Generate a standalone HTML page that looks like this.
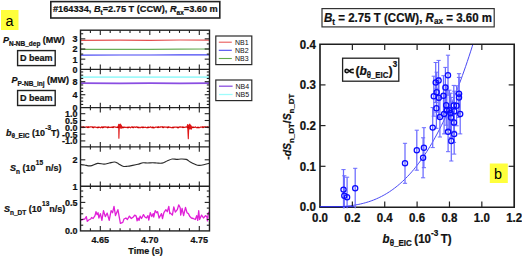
<!DOCTYPE html>
<html><head><meta charset="utf-8"><style>
html,body{margin:0;padding:0;background:#fff;}
body{width:522px;height:257px;overflow:hidden;}
svg{display:block;}
text{font-family:"Liberation Sans", sans-serif;}
text[font-weight="bold"]{stroke:#111;stroke-width:0.22px;paint-order:stroke;}
</style></head><body>
<svg width="522" height="257" viewBox="0 0 522 257">
<rect width="522" height="257" fill="#fff"/>
<rect x="1" y="10" width="17.5" height="20" fill="#ffff3c"/>
<text x="5.4" y="25.8" font-size="14.4" font-family='"Liberation Sans", sans-serif' fill="#000" transform="matrix(1,0,0,1.06,0,-1.548)">a</text>
<rect x="50.8" y="1.6" width="169" height="16.4" fill="none" stroke="#222" stroke-width="1.6"/>
<text x="53" y="12.4" font-size="9.3" font-weight="bold" font-family='"Liberation Sans", sans-serif' fill="#111" textLength="164.8" lengthAdjust="spacingAndGlyphs" transform="matrix(1,0,0,1.06,0,-0.744)">#164334, <tspan font-style="italic">B</tspan><tspan font-size="6.5" dy="2">t</tspan><tspan dy="-2">=2.75 T (CCW), </tspan><tspan font-style="italic">R</tspan><tspan font-size="6.5" dy="2">ax</tspan><tspan dy="-2">=3.60 m</tspan></text>
<polyline points="80.50,40.30 120.00,40.10 150.00,40.30 180.00,40.00 209.50,40.10" fill="none" stroke="#e45050" stroke-width="1.2" stroke-linejoin="round" />
<polyline points="80.50,49.40 120.00,49.30 150.00,49.40 180.00,49.10 209.50,49.00" fill="none" stroke="#6aae58" stroke-width="1.2" stroke-linejoin="round" />
<polyline points="80.50,55.20 120.00,55.00 150.00,55.00 180.00,54.90 209.50,54.80" fill="none" stroke="#4646f4" stroke-width="1.2" stroke-linejoin="round" />
<polyline points="80.50,77.20 150.00,77.20 209.50,77.10" fill="none" stroke="#a0fafa" stroke-width="1.8" stroke-linejoin="round" />
<polyline points="80.50,83.20 120.00,83.30 150.00,83.20 180.00,83.30 209.50,83.10" fill="none" stroke="#8a4ee2" stroke-width="1.8" stroke-linejoin="round" />
<polyline points="80.50,127.14 81.50,126.99 82.50,127.44 83.50,126.92 84.50,127.33 85.50,127.18 86.50,126.90 87.50,127.31 88.50,126.88 89.50,127.24 90.50,126.91 91.50,126.93 92.50,127.23 93.50,127.59 94.50,126.96 95.50,127.05 96.50,127.41 97.50,127.70 98.50,127.37 99.50,127.21 100.50,127.73 101.50,126.89 102.50,127.62 103.50,127.11 104.50,126.98 105.50,126.96 106.50,127.13 107.50,127.58 108.50,127.01 109.50,127.37 110.50,127.43 111.50,127.19 112.50,127.34 113.50,126.91 114.50,126.90 115.50,127.04 116.50,127.46 117.50,127.23 118.50,127.13 119.50,127.38 120.50,127.26 121.50,127.12 122.50,127.56 123.50,127.48 124.50,127.07 125.50,127.37 126.50,127.32 127.50,127.64 128.50,127.51 129.50,127.11 130.50,127.73 131.50,126.96 132.50,127.23 133.50,127.53 134.50,126.99 135.50,127.29 136.50,126.89 137.50,127.45 138.50,127.54 139.50,127.37 140.50,127.64 141.50,127.13 142.50,127.48 143.50,127.38 144.50,127.37 145.50,127.26 146.50,127.61 147.50,127.70 148.50,127.28 149.50,127.45 150.50,126.90 151.50,127.48 152.50,127.43 153.50,127.74 154.50,127.59 155.50,127.11 156.50,127.20 157.50,127.45 158.50,126.87 159.50,127.27 160.50,127.00 161.50,126.96 162.50,126.90 163.50,127.54 164.50,126.97 165.50,127.07 166.50,127.20 167.50,127.63 168.50,126.92 169.50,127.25 170.50,127.34 171.50,127.65 172.50,127.59 173.50,127.63 174.50,127.10 175.50,127.22 176.50,127.17 177.50,127.65 178.50,127.71 179.50,126.99 180.50,127.01 181.50,127.06 182.50,127.06 183.50,127.29 184.50,127.38 185.50,127.09 186.50,126.85 187.50,127.23 188.50,127.18 189.50,127.36 190.50,127.71 191.50,127.47 192.50,127.31 193.50,127.41 194.50,127.46 195.50,126.90 196.50,127.66 197.50,127.55 198.50,127.64 199.50,127.57 200.50,127.20 201.50,127.21 202.50,126.94 203.50,127.42 204.50,126.91 205.50,126.91 206.50,127.04 207.50,127.00 208.50,127.16" fill="none" stroke="#e01818" stroke-width="1.3" stroke-linejoin="round" />
<ellipse cx="120.2" cy="126.4" rx="1.9" ry="2.2" fill="#dd1010"/>
<polyline points="118.20,126.50 118.70,124.30 118.90,138.20 119.30,125.80 120.20,124.00 121.20,128.20 122.00,126.40" fill="none" stroke="#e01818" stroke-width="1.1" stroke-linejoin="round" />
<ellipse cx="189.6" cy="126.9" rx="2.4" ry="2.5" fill="#dd1010"/>
<polyline points="187.00,127.20 187.60,124.60 188.30,138.80 188.80,125.40 189.80,124.20 191.20,129.20 192.20,126.80" fill="none" stroke="#e01818" stroke-width="1.1" stroke-linejoin="round" />
<circle cx="83.0" cy="127.3" r="0.9" fill="#c00000"/>
<circle cx="88.0" cy="127.3" r="0.9" fill="#c00000"/>
<circle cx="93.0" cy="127.3" r="0.9" fill="#c00000"/>
<circle cx="98.0" cy="127.3" r="0.9" fill="#c00000"/>
<circle cx="103.0" cy="127.3" r="0.9" fill="#c00000"/>
<circle cx="108.0" cy="127.3" r="0.9" fill="#c00000"/>
<circle cx="113.0" cy="127.3" r="0.9" fill="#c00000"/>
<circle cx="118.0" cy="127.3" r="0.9" fill="#c00000"/>
<circle cx="123.0" cy="127.3" r="0.9" fill="#c00000"/>
<circle cx="128.0" cy="127.3" r="0.9" fill="#c00000"/>
<circle cx="133.0" cy="127.3" r="0.9" fill="#c00000"/>
<circle cx="138.0" cy="127.3" r="0.9" fill="#c00000"/>
<circle cx="143.0" cy="127.3" r="0.9" fill="#c00000"/>
<circle cx="148.0" cy="127.3" r="0.9" fill="#c00000"/>
<circle cx="153.0" cy="127.3" r="0.9" fill="#c00000"/>
<circle cx="158.0" cy="127.3" r="0.9" fill="#c00000"/>
<circle cx="163.0" cy="127.3" r="0.9" fill="#c00000"/>
<circle cx="168.0" cy="127.3" r="0.9" fill="#c00000"/>
<circle cx="173.0" cy="127.3" r="0.9" fill="#c00000"/>
<circle cx="178.0" cy="127.3" r="0.9" fill="#c00000"/>
<circle cx="183.0" cy="127.3" r="0.9" fill="#c00000"/>
<circle cx="188.0" cy="127.3" r="0.9" fill="#c00000"/>
<circle cx="193.0" cy="127.3" r="0.9" fill="#c00000"/>
<circle cx="198.0" cy="127.3" r="0.9" fill="#c00000"/>
<circle cx="203.0" cy="127.3" r="0.9" fill="#c00000"/>
<circle cx="208.0" cy="127.3" r="0.9" fill="#c00000"/>
<path d="M80.30,164.60 C81.00,164.67 82.82,164.78 84.50,165.00 C86.18,165.22 88.23,166.17 90.40,165.90 C92.57,165.63 95.22,163.70 97.50,163.40 C99.78,163.10 102.13,164.17 104.10,164.10 C106.07,164.03 107.57,163.35 109.30,163.00 C111.03,162.65 112.98,161.88 114.50,162.00 C116.02,162.12 116.98,162.98 118.40,163.70 C119.82,164.42 121.48,165.87 123.00,166.30 C124.52,166.73 125.88,166.45 127.50,166.30 C129.12,166.15 130.97,165.73 132.70,165.40 C134.43,165.07 136.17,164.73 137.90,164.30 C139.63,163.87 141.52,163.02 143.10,162.80 C144.68,162.58 145.80,163.02 147.40,163.00 C149.00,162.98 151.13,162.70 152.70,162.70 C154.27,162.70 155.23,162.93 156.80,163.00 C158.37,163.07 160.32,163.48 162.10,163.10 C163.88,162.72 165.82,161.38 167.50,160.70 C169.18,160.02 170.63,159.22 172.20,159.00 C173.77,158.78 175.45,159.40 176.90,159.40 C178.35,159.40 179.33,159.00 180.90,159.00 C182.47,159.00 184.73,158.88 186.30,159.40 C187.87,159.92 188.85,161.28 190.30,162.10 C191.75,162.92 193.55,163.75 195.00,164.30 C196.45,164.85 197.55,165.32 199.00,165.40 C200.45,165.48 201.97,165.17 203.70,164.80 C205.43,164.43 208.45,163.47 209.40,163.20" fill="none" stroke="#2a2a2a" stroke-width="1.15" />
<polyline points="80.40,220.40 82.40,219.50 84.80,219.00 86.30,216.60 87.30,221.40 88.70,220.00 90.70,219.00 91.60,217.50 93.10,218.50 95.00,215.60 96.00,211.70 97.00,214.60 98.00,212.70 98.90,218.00 100.40,213.60 101.90,220.40 103.50,210.70 105.30,216.60 107.20,213.10 109.20,220.40 111.10,210.70 112.60,212.70 114.00,206.30 115.50,215.60 117.90,209.70 120.40,223.40 122.80,222.40 124.00,219.00 125.90,218.00 127.40,219.50 129.40,216.10 131.30,218.50 133.30,217.00 134.70,215.10 136.20,216.10 137.10,220.90 138.10,218.00 139.10,220.40 140.10,216.10 141.50,218.50 143.50,214.60 144.90,217.00 146.40,218.00 147.90,215.60 148.80,220.00 150.30,212.70 151.80,216.60 153.20,213.60 153.70,217.00 155.20,210.70 156.60,212.70 157.60,211.70 159.10,218.00 161.50,213.60 162.50,218.50 163.90,212.70 165.90,209.70 167.30,211.70 168.80,206.30 169.80,213.60 170.00,212.70 172.40,215.10 173.80,206.80 175.30,212.20 177.30,209.70 178.70,204.90 180.20,207.80 180.70,215.10 182.10,208.30 183.60,215.60 185.50,207.30 187.00,212.70 188.40,213.60 189.90,216.60 191.40,218.00 193.30,218.50 195.30,219.50 196.70,215.60 197.70,220.40 198.70,210.70 199.60,219.50 201.60,215.10 203.50,218.00 205.50,215.60 207.00,217.00 207.40,220.90 208.40,212.70 209.40,212.20" fill="none" stroke="#e020d8" stroke-width="1.3" stroke-linejoin="round" />
<rect x="80.5" y="30.2" width="129.0" height="200.70000000000002" fill="none" stroke="#222" stroke-width="1.4"/>
<line x1="80.50" y1="69.40" x2="209.50" y2="69.40" stroke="#222" stroke-width="1.4" />
<line x1="80.50" y1="107.60" x2="209.50" y2="107.60" stroke="#222" stroke-width="1.4" />
<line x1="80.50" y1="146.90" x2="209.50" y2="146.90" stroke="#222" stroke-width="1.4" />
<line x1="80.50" y1="186.20" x2="209.50" y2="186.20" stroke="#222" stroke-width="1.4" />
<line x1="90.40" y1="30.20" x2="90.40" y2="32.90" stroke="#222" stroke-width="1.1" />
<line x1="90.40" y1="69.40" x2="90.40" y2="66.70" stroke="#222" stroke-width="1.1" />
<line x1="100.30" y1="30.20" x2="100.30" y2="35.00" stroke="#222" stroke-width="1.1" />
<line x1="100.30" y1="69.40" x2="100.30" y2="64.60" stroke="#222" stroke-width="1.1" />
<line x1="110.20" y1="30.20" x2="110.20" y2="32.90" stroke="#222" stroke-width="1.1" />
<line x1="110.20" y1="69.40" x2="110.20" y2="66.70" stroke="#222" stroke-width="1.1" />
<line x1="120.10" y1="30.20" x2="120.10" y2="32.90" stroke="#222" stroke-width="1.1" />
<line x1="120.10" y1="69.40" x2="120.10" y2="66.70" stroke="#222" stroke-width="1.1" />
<line x1="130.00" y1="30.20" x2="130.00" y2="32.90" stroke="#222" stroke-width="1.1" />
<line x1="130.00" y1="69.40" x2="130.00" y2="66.70" stroke="#222" stroke-width="1.1" />
<line x1="139.90" y1="30.20" x2="139.90" y2="32.90" stroke="#222" stroke-width="1.1" />
<line x1="139.90" y1="69.40" x2="139.90" y2="66.70" stroke="#222" stroke-width="1.1" />
<line x1="149.80" y1="30.20" x2="149.80" y2="35.00" stroke="#222" stroke-width="1.1" />
<line x1="149.80" y1="69.40" x2="149.80" y2="64.60" stroke="#222" stroke-width="1.1" />
<line x1="159.70" y1="30.20" x2="159.70" y2="32.90" stroke="#222" stroke-width="1.1" />
<line x1="159.70" y1="69.40" x2="159.70" y2="66.70" stroke="#222" stroke-width="1.1" />
<line x1="169.60" y1="30.20" x2="169.60" y2="32.90" stroke="#222" stroke-width="1.1" />
<line x1="169.60" y1="69.40" x2="169.60" y2="66.70" stroke="#222" stroke-width="1.1" />
<line x1="179.50" y1="30.20" x2="179.50" y2="32.90" stroke="#222" stroke-width="1.1" />
<line x1="179.50" y1="69.40" x2="179.50" y2="66.70" stroke="#222" stroke-width="1.1" />
<line x1="189.40" y1="30.20" x2="189.40" y2="32.90" stroke="#222" stroke-width="1.1" />
<line x1="189.40" y1="69.40" x2="189.40" y2="66.70" stroke="#222" stroke-width="1.1" />
<line x1="199.30" y1="30.20" x2="199.30" y2="35.00" stroke="#222" stroke-width="1.1" />
<line x1="199.30" y1="69.40" x2="199.30" y2="64.60" stroke="#222" stroke-width="1.1" />
<line x1="80.50" y1="59.15" x2="85.30" y2="59.15" stroke="#222" stroke-width="1.1" />
<line x1="209.50" y1="59.15" x2="204.70" y2="59.15" stroke="#222" stroke-width="1.1" />
<line x1="80.50" y1="49.00" x2="85.30" y2="49.00" stroke="#222" stroke-width="1.1" />
<line x1="209.50" y1="49.00" x2="204.70" y2="49.00" stroke="#222" stroke-width="1.1" />
<line x1="80.50" y1="38.85" x2="85.30" y2="38.85" stroke="#222" stroke-width="1.1" />
<line x1="209.50" y1="38.85" x2="204.70" y2="38.85" stroke="#222" stroke-width="1.1" />
<line x1="80.50" y1="64.22" x2="83.20" y2="64.22" stroke="#222" stroke-width="1.1" />
<line x1="209.50" y1="64.22" x2="206.80" y2="64.22" stroke="#222" stroke-width="1.1" />
<line x1="80.50" y1="54.07" x2="83.20" y2="54.07" stroke="#222" stroke-width="1.1" />
<line x1="209.50" y1="54.07" x2="206.80" y2="54.07" stroke="#222" stroke-width="1.1" />
<line x1="80.50" y1="43.92" x2="83.20" y2="43.92" stroke="#222" stroke-width="1.1" />
<line x1="209.50" y1="43.92" x2="206.80" y2="43.92" stroke="#222" stroke-width="1.1" />
<line x1="80.50" y1="33.77" x2="83.20" y2="33.77" stroke="#222" stroke-width="1.1" />
<line x1="209.50" y1="33.77" x2="206.80" y2="33.77" stroke="#222" stroke-width="1.1" />
<line x1="90.40" y1="69.40" x2="90.40" y2="72.10" stroke="#222" stroke-width="1.1" />
<line x1="90.40" y1="107.60" x2="90.40" y2="104.90" stroke="#222" stroke-width="1.1" />
<line x1="100.30" y1="69.40" x2="100.30" y2="74.20" stroke="#222" stroke-width="1.1" />
<line x1="100.30" y1="107.60" x2="100.30" y2="102.80" stroke="#222" stroke-width="1.1" />
<line x1="110.20" y1="69.40" x2="110.20" y2="72.10" stroke="#222" stroke-width="1.1" />
<line x1="110.20" y1="107.60" x2="110.20" y2="104.90" stroke="#222" stroke-width="1.1" />
<line x1="120.10" y1="69.40" x2="120.10" y2="72.10" stroke="#222" stroke-width="1.1" />
<line x1="120.10" y1="107.60" x2="120.10" y2="104.90" stroke="#222" stroke-width="1.1" />
<line x1="130.00" y1="69.40" x2="130.00" y2="72.10" stroke="#222" stroke-width="1.1" />
<line x1="130.00" y1="107.60" x2="130.00" y2="104.90" stroke="#222" stroke-width="1.1" />
<line x1="139.90" y1="69.40" x2="139.90" y2="72.10" stroke="#222" stroke-width="1.1" />
<line x1="139.90" y1="107.60" x2="139.90" y2="104.90" stroke="#222" stroke-width="1.1" />
<line x1="149.80" y1="69.40" x2="149.80" y2="74.20" stroke="#222" stroke-width="1.1" />
<line x1="149.80" y1="107.60" x2="149.80" y2="102.80" stroke="#222" stroke-width="1.1" />
<line x1="159.70" y1="69.40" x2="159.70" y2="72.10" stroke="#222" stroke-width="1.1" />
<line x1="159.70" y1="107.60" x2="159.70" y2="104.90" stroke="#222" stroke-width="1.1" />
<line x1="169.60" y1="69.40" x2="169.60" y2="72.10" stroke="#222" stroke-width="1.1" />
<line x1="169.60" y1="107.60" x2="169.60" y2="104.90" stroke="#222" stroke-width="1.1" />
<line x1="179.50" y1="69.40" x2="179.50" y2="72.10" stroke="#222" stroke-width="1.1" />
<line x1="179.50" y1="107.60" x2="179.50" y2="104.90" stroke="#222" stroke-width="1.1" />
<line x1="189.40" y1="69.40" x2="189.40" y2="72.10" stroke="#222" stroke-width="1.1" />
<line x1="189.40" y1="107.60" x2="189.40" y2="104.90" stroke="#222" stroke-width="1.1" />
<line x1="199.30" y1="69.40" x2="199.30" y2="74.20" stroke="#222" stroke-width="1.1" />
<line x1="199.30" y1="107.60" x2="199.30" y2="102.80" stroke="#222" stroke-width="1.1" />
<line x1="80.50" y1="94.70" x2="85.30" y2="94.70" stroke="#222" stroke-width="1.1" />
<line x1="209.50" y1="94.70" x2="204.70" y2="94.70" stroke="#222" stroke-width="1.1" />
<line x1="80.50" y1="81.70" x2="85.30" y2="81.70" stroke="#222" stroke-width="1.1" />
<line x1="209.50" y1="81.70" x2="204.70" y2="81.70" stroke="#222" stroke-width="1.1" />
<line x1="80.50" y1="104.45" x2="83.20" y2="104.45" stroke="#222" stroke-width="1.1" />
<line x1="209.50" y1="104.45" x2="206.80" y2="104.45" stroke="#222" stroke-width="1.1" />
<line x1="80.50" y1="101.20" x2="83.20" y2="101.20" stroke="#222" stroke-width="1.1" />
<line x1="209.50" y1="101.20" x2="206.80" y2="101.20" stroke="#222" stroke-width="1.1" />
<line x1="80.50" y1="97.95" x2="83.20" y2="97.95" stroke="#222" stroke-width="1.1" />
<line x1="209.50" y1="97.95" x2="206.80" y2="97.95" stroke="#222" stroke-width="1.1" />
<line x1="80.50" y1="91.45" x2="83.20" y2="91.45" stroke="#222" stroke-width="1.1" />
<line x1="209.50" y1="91.45" x2="206.80" y2="91.45" stroke="#222" stroke-width="1.1" />
<line x1="80.50" y1="88.20" x2="83.20" y2="88.20" stroke="#222" stroke-width="1.1" />
<line x1="209.50" y1="88.20" x2="206.80" y2="88.20" stroke="#222" stroke-width="1.1" />
<line x1="80.50" y1="84.95" x2="83.20" y2="84.95" stroke="#222" stroke-width="1.1" />
<line x1="209.50" y1="84.95" x2="206.80" y2="84.95" stroke="#222" stroke-width="1.1" />
<line x1="80.50" y1="78.45" x2="83.20" y2="78.45" stroke="#222" stroke-width="1.1" />
<line x1="209.50" y1="78.45" x2="206.80" y2="78.45" stroke="#222" stroke-width="1.1" />
<line x1="80.50" y1="75.20" x2="83.20" y2="75.20" stroke="#222" stroke-width="1.1" />
<line x1="209.50" y1="75.20" x2="206.80" y2="75.20" stroke="#222" stroke-width="1.1" />
<line x1="80.50" y1="71.95" x2="83.20" y2="71.95" stroke="#222" stroke-width="1.1" />
<line x1="209.50" y1="71.95" x2="206.80" y2="71.95" stroke="#222" stroke-width="1.1" />
<line x1="90.40" y1="107.60" x2="90.40" y2="110.30" stroke="#222" stroke-width="1.1" />
<line x1="90.40" y1="146.90" x2="90.40" y2="144.20" stroke="#222" stroke-width="1.1" />
<line x1="100.30" y1="107.60" x2="100.30" y2="112.40" stroke="#222" stroke-width="1.1" />
<line x1="100.30" y1="146.90" x2="100.30" y2="142.10" stroke="#222" stroke-width="1.1" />
<line x1="110.20" y1="107.60" x2="110.20" y2="110.30" stroke="#222" stroke-width="1.1" />
<line x1="110.20" y1="146.90" x2="110.20" y2="144.20" stroke="#222" stroke-width="1.1" />
<line x1="120.10" y1="107.60" x2="120.10" y2="110.30" stroke="#222" stroke-width="1.1" />
<line x1="120.10" y1="146.90" x2="120.10" y2="144.20" stroke="#222" stroke-width="1.1" />
<line x1="130.00" y1="107.60" x2="130.00" y2="110.30" stroke="#222" stroke-width="1.1" />
<line x1="130.00" y1="146.90" x2="130.00" y2="144.20" stroke="#222" stroke-width="1.1" />
<line x1="139.90" y1="107.60" x2="139.90" y2="110.30" stroke="#222" stroke-width="1.1" />
<line x1="139.90" y1="146.90" x2="139.90" y2="144.20" stroke="#222" stroke-width="1.1" />
<line x1="149.80" y1="107.60" x2="149.80" y2="112.40" stroke="#222" stroke-width="1.1" />
<line x1="149.80" y1="146.90" x2="149.80" y2="142.10" stroke="#222" stroke-width="1.1" />
<line x1="159.70" y1="107.60" x2="159.70" y2="110.30" stroke="#222" stroke-width="1.1" />
<line x1="159.70" y1="146.90" x2="159.70" y2="144.20" stroke="#222" stroke-width="1.1" />
<line x1="169.60" y1="107.60" x2="169.60" y2="110.30" stroke="#222" stroke-width="1.1" />
<line x1="169.60" y1="146.90" x2="169.60" y2="144.20" stroke="#222" stroke-width="1.1" />
<line x1="179.50" y1="107.60" x2="179.50" y2="110.30" stroke="#222" stroke-width="1.1" />
<line x1="179.50" y1="146.90" x2="179.50" y2="144.20" stroke="#222" stroke-width="1.1" />
<line x1="189.40" y1="107.60" x2="189.40" y2="110.30" stroke="#222" stroke-width="1.1" />
<line x1="189.40" y1="146.90" x2="189.40" y2="144.20" stroke="#222" stroke-width="1.1" />
<line x1="199.30" y1="107.60" x2="199.30" y2="112.40" stroke="#222" stroke-width="1.1" />
<line x1="199.30" y1="146.90" x2="199.30" y2="142.10" stroke="#222" stroke-width="1.1" />
<line x1="80.50" y1="140.90" x2="85.30" y2="140.90" stroke="#222" stroke-width="1.1" />
<line x1="209.50" y1="140.90" x2="204.70" y2="140.90" stroke="#222" stroke-width="1.1" />
<line x1="80.50" y1="134.10" x2="85.30" y2="134.10" stroke="#222" stroke-width="1.1" />
<line x1="209.50" y1="134.10" x2="204.70" y2="134.10" stroke="#222" stroke-width="1.1" />
<line x1="80.50" y1="127.30" x2="85.30" y2="127.30" stroke="#222" stroke-width="1.1" />
<line x1="209.50" y1="127.30" x2="204.70" y2="127.30" stroke="#222" stroke-width="1.1" />
<line x1="80.50" y1="120.50" x2="85.30" y2="120.50" stroke="#222" stroke-width="1.1" />
<line x1="209.50" y1="120.50" x2="204.70" y2="120.50" stroke="#222" stroke-width="1.1" />
<line x1="80.50" y1="113.70" x2="85.30" y2="113.70" stroke="#222" stroke-width="1.1" />
<line x1="209.50" y1="113.70" x2="204.70" y2="113.70" stroke="#222" stroke-width="1.1" />
<line x1="90.40" y1="146.90" x2="90.40" y2="149.60" stroke="#222" stroke-width="1.1" />
<line x1="90.40" y1="186.20" x2="90.40" y2="183.50" stroke="#222" stroke-width="1.1" />
<line x1="100.30" y1="146.90" x2="100.30" y2="151.70" stroke="#222" stroke-width="1.1" />
<line x1="100.30" y1="186.20" x2="100.30" y2="181.40" stroke="#222" stroke-width="1.1" />
<line x1="110.20" y1="146.90" x2="110.20" y2="149.60" stroke="#222" stroke-width="1.1" />
<line x1="110.20" y1="186.20" x2="110.20" y2="183.50" stroke="#222" stroke-width="1.1" />
<line x1="120.10" y1="146.90" x2="120.10" y2="149.60" stroke="#222" stroke-width="1.1" />
<line x1="120.10" y1="186.20" x2="120.10" y2="183.50" stroke="#222" stroke-width="1.1" />
<line x1="130.00" y1="146.90" x2="130.00" y2="149.60" stroke="#222" stroke-width="1.1" />
<line x1="130.00" y1="186.20" x2="130.00" y2="183.50" stroke="#222" stroke-width="1.1" />
<line x1="139.90" y1="146.90" x2="139.90" y2="149.60" stroke="#222" stroke-width="1.1" />
<line x1="139.90" y1="186.20" x2="139.90" y2="183.50" stroke="#222" stroke-width="1.1" />
<line x1="149.80" y1="146.90" x2="149.80" y2="151.70" stroke="#222" stroke-width="1.1" />
<line x1="149.80" y1="186.20" x2="149.80" y2="181.40" stroke="#222" stroke-width="1.1" />
<line x1="159.70" y1="146.90" x2="159.70" y2="149.60" stroke="#222" stroke-width="1.1" />
<line x1="159.70" y1="186.20" x2="159.70" y2="183.50" stroke="#222" stroke-width="1.1" />
<line x1="169.60" y1="146.90" x2="169.60" y2="149.60" stroke="#222" stroke-width="1.1" />
<line x1="169.60" y1="186.20" x2="169.60" y2="183.50" stroke="#222" stroke-width="1.1" />
<line x1="179.50" y1="146.90" x2="179.50" y2="149.60" stroke="#222" stroke-width="1.1" />
<line x1="179.50" y1="186.20" x2="179.50" y2="183.50" stroke="#222" stroke-width="1.1" />
<line x1="189.40" y1="146.90" x2="189.40" y2="149.60" stroke="#222" stroke-width="1.1" />
<line x1="189.40" y1="186.20" x2="189.40" y2="183.50" stroke="#222" stroke-width="1.1" />
<line x1="199.30" y1="146.90" x2="199.30" y2="151.70" stroke="#222" stroke-width="1.1" />
<line x1="199.30" y1="186.20" x2="199.30" y2="181.40" stroke="#222" stroke-width="1.1" />
<line x1="80.50" y1="159.80" x2="85.30" y2="159.80" stroke="#222" stroke-width="1.1" />
<line x1="209.50" y1="159.80" x2="204.70" y2="159.80" stroke="#222" stroke-width="1.1" />
<line x1="80.50" y1="173.05" x2="83.20" y2="173.05" stroke="#222" stroke-width="1.1" />
<line x1="209.50" y1="173.05" x2="206.80" y2="173.05" stroke="#222" stroke-width="1.1" />
<line x1="90.40" y1="186.20" x2="90.40" y2="188.90" stroke="#222" stroke-width="1.1" />
<line x1="90.40" y1="230.90" x2="90.40" y2="228.20" stroke="#222" stroke-width="1.1" />
<line x1="100.30" y1="186.20" x2="100.30" y2="191.00" stroke="#222" stroke-width="1.1" />
<line x1="100.30" y1="230.90" x2="100.30" y2="226.10" stroke="#222" stroke-width="1.1" />
<line x1="110.20" y1="186.20" x2="110.20" y2="188.90" stroke="#222" stroke-width="1.1" />
<line x1="110.20" y1="230.90" x2="110.20" y2="228.20" stroke="#222" stroke-width="1.1" />
<line x1="120.10" y1="186.20" x2="120.10" y2="188.90" stroke="#222" stroke-width="1.1" />
<line x1="120.10" y1="230.90" x2="120.10" y2="228.20" stroke="#222" stroke-width="1.1" />
<line x1="130.00" y1="186.20" x2="130.00" y2="188.90" stroke="#222" stroke-width="1.1" />
<line x1="130.00" y1="230.90" x2="130.00" y2="228.20" stroke="#222" stroke-width="1.1" />
<line x1="139.90" y1="186.20" x2="139.90" y2="188.90" stroke="#222" stroke-width="1.1" />
<line x1="139.90" y1="230.90" x2="139.90" y2="228.20" stroke="#222" stroke-width="1.1" />
<line x1="149.80" y1="186.20" x2="149.80" y2="191.00" stroke="#222" stroke-width="1.1" />
<line x1="149.80" y1="230.90" x2="149.80" y2="226.10" stroke="#222" stroke-width="1.1" />
<line x1="159.70" y1="186.20" x2="159.70" y2="188.90" stroke="#222" stroke-width="1.1" />
<line x1="159.70" y1="230.90" x2="159.70" y2="228.20" stroke="#222" stroke-width="1.1" />
<line x1="169.60" y1="186.20" x2="169.60" y2="188.90" stroke="#222" stroke-width="1.1" />
<line x1="169.60" y1="230.90" x2="169.60" y2="228.20" stroke="#222" stroke-width="1.1" />
<line x1="179.50" y1="186.20" x2="179.50" y2="188.90" stroke="#222" stroke-width="1.1" />
<line x1="179.50" y1="230.90" x2="179.50" y2="228.20" stroke="#222" stroke-width="1.1" />
<line x1="189.40" y1="186.20" x2="189.40" y2="188.90" stroke="#222" stroke-width="1.1" />
<line x1="189.40" y1="230.90" x2="189.40" y2="228.20" stroke="#222" stroke-width="1.1" />
<line x1="199.30" y1="186.20" x2="199.30" y2="191.00" stroke="#222" stroke-width="1.1" />
<line x1="199.30" y1="230.90" x2="199.30" y2="226.10" stroke="#222" stroke-width="1.1" />
<line x1="80.50" y1="202.40" x2="85.30" y2="202.40" stroke="#222" stroke-width="1.1" />
<line x1="209.50" y1="202.40" x2="204.70" y2="202.40" stroke="#222" stroke-width="1.1" />
<line x1="80.50" y1="225.20" x2="83.20" y2="225.20" stroke="#222" stroke-width="1.1" />
<line x1="209.50" y1="225.20" x2="206.80" y2="225.20" stroke="#222" stroke-width="1.1" />
<line x1="80.50" y1="219.50" x2="83.20" y2="219.50" stroke="#222" stroke-width="1.1" />
<line x1="209.50" y1="219.50" x2="206.80" y2="219.50" stroke="#222" stroke-width="1.1" />
<line x1="80.50" y1="213.80" x2="83.20" y2="213.80" stroke="#222" stroke-width="1.1" />
<line x1="209.50" y1="213.80" x2="206.80" y2="213.80" stroke="#222" stroke-width="1.1" />
<line x1="80.50" y1="208.10" x2="83.20" y2="208.10" stroke="#222" stroke-width="1.1" />
<line x1="209.50" y1="208.10" x2="206.80" y2="208.10" stroke="#222" stroke-width="1.1" />
<line x1="80.50" y1="196.70" x2="83.20" y2="196.70" stroke="#222" stroke-width="1.1" />
<line x1="209.50" y1="196.70" x2="206.80" y2="196.70" stroke="#222" stroke-width="1.1" />
<line x1="80.50" y1="191.00" x2="83.20" y2="191.00" stroke="#222" stroke-width="1.1" />
<line x1="209.50" y1="191.00" x2="206.80" y2="191.00" stroke="#222" stroke-width="1.1" />
<text x="77.6" y="42.349999999999994" font-size="9" font-weight="bold" font-family='"Liberation Sans", sans-serif' fill="#111" text-anchor="end"  transform="matrix(1,0,0,1.06,0,-2.541)">3</text>
<text x="77.6" y="52.5" font-size="9" font-weight="bold" font-family='"Liberation Sans", sans-serif' fill="#111" text-anchor="end"  transform="matrix(1,0,0,1.06,0,-3.150)">2</text>
<text x="77.6" y="62.65" font-size="9" font-weight="bold" font-family='"Liberation Sans", sans-serif' fill="#111" text-anchor="end"  transform="matrix(1,0,0,1.06,0,-3.759)">1</text>
<text x="77.6" y="72.8" font-size="9" font-weight="bold" font-family='"Liberation Sans", sans-serif' fill="#111" text-anchor="end"  transform="matrix(1,0,0,1.06,0,-4.368)">0</text>
<text x="77.6" y="85.2" font-size="9" font-weight="bold" font-family='"Liberation Sans", sans-serif' fill="#111" text-anchor="end"  transform="matrix(1,0,0,1.06,0,-5.112)">8</text>
<text x="77.6" y="98.2" font-size="9" font-weight="bold" font-family='"Liberation Sans", sans-serif' fill="#111" text-anchor="end"  transform="matrix(1,0,0,1.06,0,-5.892)">4</text>
<text x="77.6" y="111.2" font-size="9" font-weight="bold" font-family='"Liberation Sans", sans-serif' fill="#111" text-anchor="end"  transform="matrix(1,0,0,1.06,0,-6.672)">0</text>
<text x="77.6" y="117.2" font-size="9" font-weight="bold" font-family='"Liberation Sans", sans-serif' fill="#111" text-anchor="end"  transform="matrix(1,0,0,1.06,0,-7.032)">1.0</text>
<text x="77.6" y="124.0" font-size="9" font-weight="bold" font-family='"Liberation Sans", sans-serif' fill="#111" text-anchor="end"  transform="matrix(1,0,0,1.06,0,-7.440)">0.5</text>
<text x="77.6" y="130.8" font-size="9" font-weight="bold" font-family='"Liberation Sans", sans-serif' fill="#111" text-anchor="end"  transform="matrix(1,0,0,1.06,0,-7.848)">0.0</text>
<text x="77.6" y="137.6" font-size="9" font-weight="bold" font-family='"Liberation Sans", sans-serif' fill="#111" text-anchor="end"  transform="matrix(1,0,0,1.06,0,-8.256)">-0.5</text>
<text x="77.6" y="144.4" font-size="9" font-weight="bold" font-family='"Liberation Sans", sans-serif' fill="#111" text-anchor="end"  transform="matrix(1,0,0,1.06,0,-8.664)">-1.0</text>
<text x="77.6" y="163.3" font-size="9" font-weight="bold" font-family='"Liberation Sans", sans-serif' fill="#111" text-anchor="end"  transform="matrix(1,0,0,1.06,0,-9.798)">2</text>
<text x="77.6" y="189.8" font-size="9" font-weight="bold" font-family='"Liberation Sans", sans-serif' fill="#111" text-anchor="end"  transform="matrix(1,0,0,1.06,0,-11.388)">1</text>
<text x="77.6" y="205.9" font-size="9" font-weight="bold" font-family='"Liberation Sans", sans-serif' fill="#111" text-anchor="end"  transform="matrix(1,0,0,1.06,0,-12.354)">0.5</text>
<text x="77.6" y="234.4" font-size="9" font-weight="bold" font-family='"Liberation Sans", sans-serif' fill="#111" text-anchor="end"  transform="matrix(1,0,0,1.06,0,-14.064)">0.0</text>
<text x="100.3" y="243" font-size="9" font-weight="bold" font-family='"Liberation Sans", sans-serif' fill="#111" text-anchor="middle"  transform="matrix(1,0,0,1.06,0,-14.580)">4.65</text>
<text x="149.7999999999998" y="243" font-size="9" font-weight="bold" font-family='"Liberation Sans", sans-serif' fill="#111" text-anchor="middle"  transform="matrix(1,0,0,1.06,0,-14.580)">4.70</text>
<text x="199.29999999999964" y="243" font-size="9" font-weight="bold" font-family='"Liberation Sans", sans-serif' fill="#111" text-anchor="middle"  transform="matrix(1,0,0,1.06,0,-14.580)">4.75</text>
<text x="145.5" y="254.2" font-size="9" font-weight="bold" font-family='"Liberation Sans", sans-serif' fill="#111" text-anchor="middle"  transform="matrix(1,0,0,1.06,0,-15.252)">Time (s)</text>
<text x="3" y="43.2" font-size="9" font-weight="bold" font-family='"Liberation Sans", sans-serif' fill="#111" transform="matrix(1,0,0,1.06,0,-2.592)"><tspan font-style="italic">P</tspan><tspan font-size="6.5" dy="2.2">N-NB_dep</tspan><tspan dy="-2.2"> (MW)</tspan></text>
<text x="11.5" y="83.2" font-size="9" font-weight="bold" font-family='"Liberation Sans", sans-serif' fill="#111" transform="matrix(1,0,0,1.06,0,-4.992)"><tspan font-style="italic">P</tspan><tspan font-size="6.5" dy="2.2">P-NB_inj</tspan><tspan dy="-2.2"> (MW)</tspan></text>
<text x="6" y="135.7" font-size="9" font-weight="bold" font-family='"Liberation Sans", sans-serif' fill="#111" transform="matrix(1,0,0,1.06,0,-8.142)"><tspan font-style="italic">b</tspan><tspan font-size="6.5" dy="2.6">θ_EIC</tspan><tspan dy="-2.6"> (10</tspan><tspan font-size="6.5" dy="-5.6" dx="0.3">-3</tspan><tspan dy="5.6">T)</tspan></text>
<text x="10" y="171" font-size="9" font-weight="bold" font-family='"Liberation Sans", sans-serif' fill="#111" transform="matrix(1,0,0,1.06,0,-10.260)"><tspan font-style="italic">S</tspan><tspan font-size="6.5" dy="2.6">n</tspan><tspan dy="-2.6"> (10</tspan><tspan font-size="6.5" dy="-5.6" dx="0.3">15</tspan><tspan dy="5.6"> n/s)</tspan></text>
<text x="4" y="212.2" font-size="9" font-weight="bold" font-family='"Liberation Sans", sans-serif' fill="#111" transform="matrix(1,0,0,1.06,0,-12.732)"><tspan font-style="italic">S</tspan><tspan font-size="6.5" dy="2.6">n_DT</tspan><tspan dy="-2.6"> (10</tspan><tspan font-size="6.5" dy="-5.6" dx="0.3">13</tspan><tspan dy="5.6">n/s)</tspan></text>
<rect x="17.6" y="50.6" width="37.6" height="15" fill="none" stroke="#222" stroke-width="1.4"/>
<text x="19.900000000000002" y="61.0" font-size="9.3" font-weight="bold" font-family='"Liberation Sans", sans-serif' fill="#111" text-anchor="start" textLength="32.6" lengthAdjust="spacingAndGlyphs" transform="matrix(1,0,0,1.06,0,-3.660)">D beam</text>
<rect x="17.6" y="90.5" width="37.6" height="15" fill="none" stroke="#222" stroke-width="1.4"/>
<text x="19.900000000000002" y="100.9" font-size="9.3" font-weight="bold" font-family='"Liberation Sans", sans-serif' fill="#111" text-anchor="start" textLength="32.6" lengthAdjust="spacingAndGlyphs" transform="matrix(1,0,0,1.06,0,-6.054)">D beam</text>
<rect x="215.8" y="36" width="36" height="28.6" fill="none" stroke="#2a2a2a" stroke-width="1.2"/>
<line x1="218.80" y1="42.20" x2="231.80" y2="42.20" stroke="#e85a5a" stroke-width="1.1" />
<text x="235" y="44.7" font-size="7" font-family='"Liberation Sans", sans-serif' fill="#111" transform="matrix(1,0,0,1.06,0,-2.682)">NB1</text>
<line x1="218.80" y1="50.30" x2="231.80" y2="50.30" stroke="#4848f0" stroke-width="1.1" />
<text x="235" y="52.8" font-size="7" font-family='"Liberation Sans", sans-serif' fill="#111" transform="matrix(1,0,0,1.06,0,-3.168)">NB2</text>
<line x1="218.80" y1="58.50" x2="231.80" y2="58.50" stroke="#62aa4a" stroke-width="1.1" />
<text x="235" y="61.0" font-size="7" font-family='"Liberation Sans", sans-serif' fill="#111" transform="matrix(1,0,0,1.06,0,-3.660)">NB3</text>
<rect x="215.8" y="80" width="36" height="20.6" fill="none" stroke="#2a2a2a" stroke-width="1.2"/>
<line x1="219.00" y1="86.20" x2="232.60" y2="86.20" stroke="#8c50e0" stroke-width="1.3" />
<text x="235.5" y="88.7" font-size="7" font-family='"Liberation Sans", sans-serif' fill="#111" transform="matrix(1,0,0,1.06,0,-5.322)">NB4</text>
<line x1="219.00" y1="94.50" x2="232.60" y2="94.50" stroke="#9ffcfc" stroke-width="1.3" />
<text x="235.5" y="97.0" font-size="7" font-family='"Liberation Sans", sans-serif' fill="#111" transform="matrix(1,0,0,1.06,0,-5.820)">NB5</text>
<rect x="322" y="8.6" width="172.2" height="18.3" fill="none" stroke="#333" stroke-width="1.2"/>
<text x="324" y="21.6" font-size="12" font-weight="bold" font-family='"Liberation Sans", sans-serif' fill="#111" textLength="168" lengthAdjust="spacingAndGlyphs" transform="matrix(1,0,0,1.06,0,-1.296)"><tspan font-style="italic">B</tspan><tspan font-size="8.5" dy="3">t</tspan><tspan dy="-3"> = 2.75 T (CCW), </tspan><tspan font-style="italic">R</tspan><tspan font-size="8.5" dy="2.5">ax</tspan><tspan dy="-2.5"> = 3.60 m</tspan></text>
<polyline points="320.00,207.00 321.62,207.00 323.24,207.00 324.86,206.99 326.47,206.99 328.09,206.98 329.71,206.96 331.33,206.93 332.95,206.90 334.56,206.86 336.18,206.81 337.80,206.74 339.42,206.67 341.04,206.58 342.66,206.47 344.27,206.35 345.89,206.21 347.51,206.05 349.13,205.87 350.75,205.68 352.37,205.46 353.99,205.21 355.60,204.95 357.22,204.65 358.84,204.33 360.46,203.99 362.08,203.61 363.70,203.20 365.31,202.77 366.93,202.29 368.55,201.79 370.17,201.25 371.79,200.68 373.41,200.07 375.02,199.42 376.64,198.73 378.26,198.00 379.88,197.23 381.50,196.41 383.12,195.56 384.73,194.65 386.35,193.70 387.97,192.71 389.59,191.66 391.21,190.57 392.83,189.42 394.44,188.22 396.06,186.97 397.68,185.66 399.30,184.30 400.92,182.89 402.54,181.41 404.15,179.87 405.77,178.28 407.39,176.62 409.01,174.90 410.63,173.12 412.25,171.27 413.86,169.36 415.48,167.38 417.10,165.33 418.72,163.21 420.34,161.02 421.96,158.76 423.57,156.43 425.19,154.02 426.81,151.54 428.43,148.98 430.05,146.34 431.67,143.62 433.28,140.83 434.90,137.95 436.52,134.99 438.14,131.95 439.76,128.82 441.38,125.61 442.99,122.31 444.61,118.93 446.23,115.45 447.85,111.88 449.47,108.23 451.09,104.48 452.70,100.63 454.32,96.69 455.94,92.66 457.56,88.52 459.18,84.29 460.80,79.96 462.41,75.53 464.03,71.00 465.65,66.36 467.27,61.62 468.89,56.78 470.51,51.83 472.12,46.77 472.93,44.20" fill="none" stroke="#4848f4" stroke-width="1.0" stroke-linejoin="round" />
<line x1="319.20" y1="207.30" x2="515.00" y2="207.30" stroke="#1e1e1e" stroke-width="1.6" />
<line x1="343.50" y1="169.60" x2="343.50" y2="208.30" stroke="#6a6aff" stroke-width="1.25" />
<line x1="341.40" y1="169.60" x2="345.60" y2="169.60" stroke="#6a6aff" stroke-width="1.0" />
<line x1="344.30" y1="175.80" x2="344.30" y2="208.30" stroke="#6a6aff" stroke-width="1.25" />
<line x1="342.20" y1="175.80" x2="346.40" y2="175.80" stroke="#6a6aff" stroke-width="1.0" />
<line x1="347.10" y1="177.20" x2="347.10" y2="208.30" stroke="#6a6aff" stroke-width="1.25" />
<line x1="345.00" y1="177.20" x2="349.20" y2="177.20" stroke="#6a6aff" stroke-width="1.0" />
<line x1="355.20" y1="168.30" x2="355.20" y2="208.30" stroke="#6a6aff" stroke-width="1.25" />
<line x1="353.10" y1="168.30" x2="357.30" y2="168.30" stroke="#6a6aff" stroke-width="1.0" />
<line x1="405.00" y1="143.30" x2="405.00" y2="183.30" stroke="#6a6aff" stroke-width="1.25" />
<line x1="402.90" y1="143.30" x2="407.10" y2="143.30" stroke="#6a6aff" stroke-width="1.0" />
<line x1="402.90" y1="183.30" x2="407.10" y2="183.30" stroke="#6a6aff" stroke-width="1.0" />
<line x1="416.80" y1="130.20" x2="416.80" y2="170.20" stroke="#6a6aff" stroke-width="1.25" />
<line x1="414.70" y1="130.20" x2="418.90" y2="130.20" stroke="#6a6aff" stroke-width="1.0" />
<line x1="414.70" y1="170.20" x2="418.90" y2="170.20" stroke="#6a6aff" stroke-width="1.0" />
<line x1="423.90" y1="127.70" x2="423.90" y2="167.70" stroke="#6a6aff" stroke-width="1.25" />
<line x1="421.80" y1="127.70" x2="426.00" y2="127.70" stroke="#6a6aff" stroke-width="1.0" />
<line x1="421.80" y1="167.70" x2="426.00" y2="167.70" stroke="#6a6aff" stroke-width="1.0" />
<line x1="423.10" y1="137.80" x2="423.10" y2="177.80" stroke="#6a6aff" stroke-width="1.25" />
<line x1="421.00" y1="137.80" x2="425.20" y2="137.80" stroke="#6a6aff" stroke-width="1.0" />
<line x1="421.00" y1="177.80" x2="425.20" y2="177.80" stroke="#6a6aff" stroke-width="1.0" />
<line x1="432.70" y1="107.60" x2="432.70" y2="147.60" stroke="#6a6aff" stroke-width="1.25" />
<line x1="430.60" y1="107.60" x2="434.80" y2="107.60" stroke="#6a6aff" stroke-width="1.0" />
<line x1="430.60" y1="147.60" x2="434.80" y2="147.60" stroke="#6a6aff" stroke-width="1.0" />
<line x1="448.00" y1="55.20" x2="448.00" y2="95.20" stroke="#6a6aff" stroke-width="1.25" />
<line x1="445.90" y1="55.20" x2="450.10" y2="55.20" stroke="#6a6aff" stroke-width="1.0" />
<line x1="445.90" y1="95.20" x2="450.10" y2="95.20" stroke="#6a6aff" stroke-width="1.0" />
<line x1="438.60" y1="60.40" x2="438.60" y2="100.40" stroke="#6a6aff" stroke-width="1.25" />
<line x1="436.50" y1="60.40" x2="440.70" y2="60.40" stroke="#6a6aff" stroke-width="1.0" />
<line x1="436.50" y1="100.40" x2="440.70" y2="100.40" stroke="#6a6aff" stroke-width="1.0" />
<line x1="435.70" y1="62.50" x2="435.70" y2="102.50" stroke="#6a6aff" stroke-width="1.25" />
<line x1="433.60" y1="62.50" x2="437.80" y2="62.50" stroke="#6a6aff" stroke-width="1.0" />
<line x1="433.60" y1="102.50" x2="437.80" y2="102.50" stroke="#6a6aff" stroke-width="1.0" />
<line x1="445.40" y1="67.40" x2="445.40" y2="107.40" stroke="#6a6aff" stroke-width="1.25" />
<line x1="443.30" y1="67.40" x2="447.50" y2="67.40" stroke="#6a6aff" stroke-width="1.0" />
<line x1="443.30" y1="107.40" x2="447.50" y2="107.40" stroke="#6a6aff" stroke-width="1.0" />
<line x1="436.70" y1="72.20" x2="436.70" y2="112.20" stroke="#6a6aff" stroke-width="1.25" />
<line x1="434.60" y1="72.20" x2="438.80" y2="72.20" stroke="#6a6aff" stroke-width="1.0" />
<line x1="434.60" y1="112.20" x2="438.80" y2="112.20" stroke="#6a6aff" stroke-width="1.0" />
<line x1="433.80" y1="76.20" x2="433.80" y2="116.20" stroke="#6a6aff" stroke-width="1.25" />
<line x1="431.70" y1="76.20" x2="435.90" y2="76.20" stroke="#6a6aff" stroke-width="1.0" />
<line x1="431.70" y1="116.20" x2="435.90" y2="116.20" stroke="#6a6aff" stroke-width="1.0" />
<line x1="438.80" y1="77.80" x2="438.80" y2="117.80" stroke="#6a6aff" stroke-width="1.25" />
<line x1="436.70" y1="77.80" x2="440.90" y2="77.80" stroke="#6a6aff" stroke-width="1.0" />
<line x1="436.70" y1="117.80" x2="440.90" y2="117.80" stroke="#6a6aff" stroke-width="1.0" />
<line x1="443.50" y1="75.70" x2="443.50" y2="115.70" stroke="#6a6aff" stroke-width="1.25" />
<line x1="441.40" y1="75.70" x2="445.60" y2="75.70" stroke="#6a6aff" stroke-width="1.0" />
<line x1="441.40" y1="115.70" x2="445.60" y2="115.70" stroke="#6a6aff" stroke-width="1.0" />
<line x1="459.00" y1="73.70" x2="459.00" y2="113.70" stroke="#6a6aff" stroke-width="1.25" />
<line x1="456.90" y1="73.70" x2="461.10" y2="73.70" stroke="#6a6aff" stroke-width="1.0" />
<line x1="456.90" y1="113.70" x2="461.10" y2="113.70" stroke="#6a6aff" stroke-width="1.0" />
<line x1="459.00" y1="77.40" x2="459.00" y2="117.40" stroke="#6a6aff" stroke-width="1.25" />
<line x1="456.90" y1="77.40" x2="461.10" y2="77.40" stroke="#6a6aff" stroke-width="1.0" />
<line x1="456.90" y1="117.40" x2="461.10" y2="117.40" stroke="#6a6aff" stroke-width="1.0" />
<line x1="446.20" y1="85.20" x2="446.20" y2="125.20" stroke="#6a6aff" stroke-width="1.25" />
<line x1="444.10" y1="85.20" x2="448.30" y2="85.20" stroke="#6a6aff" stroke-width="1.0" />
<line x1="444.10" y1="125.20" x2="448.30" y2="125.20" stroke="#6a6aff" stroke-width="1.0" />
<line x1="453.80" y1="85.40" x2="453.80" y2="125.40" stroke="#6a6aff" stroke-width="1.25" />
<line x1="451.70" y1="85.40" x2="455.90" y2="85.40" stroke="#6a6aff" stroke-width="1.0" />
<line x1="451.70" y1="125.40" x2="455.90" y2="125.40" stroke="#6a6aff" stroke-width="1.0" />
<line x1="436.40" y1="88.30" x2="436.40" y2="128.30" stroke="#6a6aff" stroke-width="1.25" />
<line x1="434.30" y1="88.30" x2="438.50" y2="88.30" stroke="#6a6aff" stroke-width="1.0" />
<line x1="434.30" y1="128.30" x2="438.50" y2="128.30" stroke="#6a6aff" stroke-width="1.0" />
<line x1="449.40" y1="90.20" x2="449.40" y2="130.20" stroke="#6a6aff" stroke-width="1.25" />
<line x1="447.30" y1="90.20" x2="451.50" y2="90.20" stroke="#6a6aff" stroke-width="1.0" />
<line x1="447.30" y1="130.20" x2="451.50" y2="130.20" stroke="#6a6aff" stroke-width="1.0" />
<line x1="460.20" y1="93.90" x2="460.20" y2="133.90" stroke="#6a6aff" stroke-width="1.25" />
<line x1="458.10" y1="93.90" x2="462.30" y2="93.90" stroke="#6a6aff" stroke-width="1.0" />
<line x1="458.10" y1="133.90" x2="462.30" y2="133.90" stroke="#6a6aff" stroke-width="1.0" />
<line x1="444.10" y1="93.90" x2="444.10" y2="133.90" stroke="#6a6aff" stroke-width="1.25" />
<line x1="442.00" y1="93.90" x2="446.20" y2="93.90" stroke="#6a6aff" stroke-width="1.0" />
<line x1="442.00" y1="133.90" x2="446.20" y2="133.90" stroke="#6a6aff" stroke-width="1.0" />
<line x1="439.90" y1="97.00" x2="439.90" y2="137.00" stroke="#6a6aff" stroke-width="1.25" />
<line x1="437.80" y1="97.00" x2="442.00" y2="97.00" stroke="#6a6aff" stroke-width="1.0" />
<line x1="437.80" y1="137.00" x2="442.00" y2="137.00" stroke="#6a6aff" stroke-width="1.0" />
<line x1="451.00" y1="97.40" x2="451.00" y2="137.40" stroke="#6a6aff" stroke-width="1.25" />
<line x1="448.90" y1="97.40" x2="453.10" y2="97.40" stroke="#6a6aff" stroke-width="1.0" />
<line x1="448.90" y1="137.40" x2="453.10" y2="137.40" stroke="#6a6aff" stroke-width="1.0" />
<line x1="454.00" y1="102.40" x2="454.00" y2="142.40" stroke="#6a6aff" stroke-width="1.25" />
<line x1="451.90" y1="102.40" x2="456.10" y2="102.40" stroke="#6a6aff" stroke-width="1.0" />
<line x1="451.90" y1="142.40" x2="456.10" y2="142.40" stroke="#6a6aff" stroke-width="1.0" />
<line x1="448.10" y1="111.70" x2="448.10" y2="151.70" stroke="#6a6aff" stroke-width="1.25" />
<line x1="446.00" y1="111.70" x2="450.20" y2="111.70" stroke="#6a6aff" stroke-width="1.0" />
<line x1="446.00" y1="151.70" x2="450.20" y2="151.70" stroke="#6a6aff" stroke-width="1.0" />
<line x1="454.20" y1="114.10" x2="454.20" y2="154.10" stroke="#6a6aff" stroke-width="1.25" />
<line x1="452.10" y1="114.10" x2="456.30" y2="114.10" stroke="#6a6aff" stroke-width="1.0" />
<line x1="452.10" y1="154.10" x2="456.30" y2="154.10" stroke="#6a6aff" stroke-width="1.0" />
<line x1="451.30" y1="121.00" x2="451.30" y2="161.00" stroke="#6a6aff" stroke-width="1.25" />
<line x1="449.20" y1="121.00" x2="453.40" y2="121.00" stroke="#6a6aff" stroke-width="1.0" />
<line x1="449.20" y1="161.00" x2="453.40" y2="161.00" stroke="#6a6aff" stroke-width="1.0" />
<line x1="450.60" y1="93.20" x2="450.60" y2="133.20" stroke="#6a6aff" stroke-width="1.25" />
<line x1="448.50" y1="93.20" x2="452.70" y2="93.20" stroke="#6a6aff" stroke-width="1.0" />
<line x1="448.50" y1="133.20" x2="452.70" y2="133.20" stroke="#6a6aff" stroke-width="1.0" />
<line x1="454.30" y1="91.20" x2="454.30" y2="131.20" stroke="#6a6aff" stroke-width="1.25" />
<line x1="452.20" y1="91.20" x2="456.40" y2="91.20" stroke="#6a6aff" stroke-width="1.0" />
<line x1="452.20" y1="131.20" x2="456.40" y2="131.20" stroke="#6a6aff" stroke-width="1.0" />
<line x1="446.80" y1="90.40" x2="446.80" y2="130.40" stroke="#6a6aff" stroke-width="1.25" />
<line x1="444.70" y1="90.40" x2="448.90" y2="90.40" stroke="#6a6aff" stroke-width="1.0" />
<line x1="444.70" y1="130.40" x2="448.90" y2="130.40" stroke="#6a6aff" stroke-width="1.0" />
<line x1="456.60" y1="85.80" x2="456.60" y2="125.80" stroke="#6a6aff" stroke-width="1.25" />
<line x1="454.50" y1="85.80" x2="458.70" y2="85.80" stroke="#6a6aff" stroke-width="1.0" />
<line x1="454.50" y1="125.80" x2="458.70" y2="125.80" stroke="#6a6aff" stroke-width="1.0" />
<circle cx="343.5" cy="189.6" r="2.6" fill="none" stroke="#0a0aff" stroke-width="1.25"/>
<circle cx="344.3" cy="195.8" r="2.6" fill="none" stroke="#0a0aff" stroke-width="1.25"/>
<circle cx="347.1" cy="197.2" r="2.6" fill="none" stroke="#0a0aff" stroke-width="1.25"/>
<circle cx="355.2" cy="188.3" r="2.6" fill="none" stroke="#0a0aff" stroke-width="1.25"/>
<circle cx="405.0" cy="163.3" r="2.6" fill="none" stroke="#0a0aff" stroke-width="1.25"/>
<circle cx="416.8" cy="150.2" r="2.6" fill="none" stroke="#0a0aff" stroke-width="1.25"/>
<circle cx="423.9" cy="147.7" r="2.6" fill="none" stroke="#0a0aff" stroke-width="1.25"/>
<circle cx="423.1" cy="157.8" r="2.6" fill="none" stroke="#0a0aff" stroke-width="1.25"/>
<circle cx="432.7" cy="127.6" r="2.6" fill="none" stroke="#0a0aff" stroke-width="1.25"/>
<circle cx="448" cy="75.2" r="2.6" fill="none" stroke="#0a0aff" stroke-width="1.25"/>
<circle cx="438.6" cy="80.4" r="2.6" fill="none" stroke="#0a0aff" stroke-width="1.25"/>
<circle cx="435.7" cy="82.5" r="2.6" fill="none" stroke="#0a0aff" stroke-width="1.25"/>
<circle cx="445.4" cy="87.4" r="2.6" fill="none" stroke="#0a0aff" stroke-width="1.25"/>
<circle cx="436.7" cy="92.2" r="2.6" fill="none" stroke="#0a0aff" stroke-width="1.25"/>
<circle cx="433.8" cy="96.2" r="2.6" fill="none" stroke="#0a0aff" stroke-width="1.25"/>
<circle cx="438.8" cy="97.8" r="2.6" fill="none" stroke="#0a0aff" stroke-width="1.25"/>
<circle cx="443.5" cy="95.7" r="2.6" fill="none" stroke="#0a0aff" stroke-width="1.25"/>
<circle cx="459" cy="93.7" r="2.6" fill="none" stroke="#0a0aff" stroke-width="1.25"/>
<circle cx="459" cy="97.4" r="2.6" fill="none" stroke="#0a0aff" stroke-width="1.25"/>
<circle cx="446.2" cy="105.2" r="2.6" fill="none" stroke="#0a0aff" stroke-width="1.25"/>
<circle cx="453.8" cy="105.4" r="2.6" fill="none" stroke="#0a0aff" stroke-width="1.25"/>
<circle cx="436.4" cy="108.3" r="2.6" fill="none" stroke="#0a0aff" stroke-width="1.25"/>
<circle cx="449.4" cy="110.2" r="2.6" fill="none" stroke="#0a0aff" stroke-width="1.25"/>
<circle cx="460.2" cy="113.9" r="2.6" fill="none" stroke="#0a0aff" stroke-width="1.25"/>
<circle cx="444.1" cy="113.9" r="2.6" fill="none" stroke="#0a0aff" stroke-width="1.25"/>
<circle cx="439.9" cy="117" r="2.6" fill="none" stroke="#0a0aff" stroke-width="1.25"/>
<circle cx="451" cy="117.4" r="2.6" fill="none" stroke="#0a0aff" stroke-width="1.25"/>
<circle cx="454" cy="122.4" r="2.6" fill="none" stroke="#0a0aff" stroke-width="1.25"/>
<circle cx="448.1" cy="131.7" r="2.6" fill="none" stroke="#0a0aff" stroke-width="1.25"/>
<circle cx="454.2" cy="134.1" r="2.6" fill="none" stroke="#0a0aff" stroke-width="1.25"/>
<circle cx="451.3" cy="141" r="2.6" fill="none" stroke="#0a0aff" stroke-width="1.25"/>
<circle cx="450.6" cy="113.2" r="2.6" fill="none" stroke="#0a0aff" stroke-width="1.25"/>
<circle cx="454.3" cy="111.2" r="2.6" fill="none" stroke="#0a0aff" stroke-width="1.25"/>
<circle cx="446.8" cy="110.4" r="2.6" fill="none" stroke="#0a0aff" stroke-width="1.25"/>
<circle cx="456.6" cy="105.8" r="2.6" fill="none" stroke="#0a0aff" stroke-width="1.25"/>
<path d="M320.0,207.0 V44.2 H514.2 V207.0" fill="none" stroke="#1e1e1e" stroke-width="1.65"/>
<line x1="352.37" y1="207.00" x2="352.37" y2="201.50" stroke="#222" stroke-width="1.2" />
<line x1="352.37" y1="44.20" x2="352.37" y2="50.00" stroke="#222" stroke-width="1.2" />
<line x1="384.73" y1="207.00" x2="384.73" y2="201.50" stroke="#222" stroke-width="1.2" />
<line x1="384.73" y1="44.20" x2="384.73" y2="50.00" stroke="#222" stroke-width="1.2" />
<line x1="417.10" y1="207.00" x2="417.10" y2="201.50" stroke="#222" stroke-width="1.2" />
<line x1="417.10" y1="44.20" x2="417.10" y2="50.00" stroke="#222" stroke-width="1.2" />
<line x1="449.47" y1="207.00" x2="449.47" y2="201.50" stroke="#222" stroke-width="1.2" />
<line x1="449.47" y1="44.20" x2="449.47" y2="50.00" stroke="#222" stroke-width="1.2" />
<line x1="481.83" y1="207.00" x2="481.83" y2="201.50" stroke="#222" stroke-width="1.2" />
<line x1="481.83" y1="44.20" x2="481.83" y2="50.00" stroke="#222" stroke-width="1.2" />
<line x1="320.00" y1="166.30" x2="325.50" y2="166.30" stroke="#222" stroke-width="1.2" />
<line x1="514.20" y1="166.30" x2="508.70" y2="166.30" stroke="#222" stroke-width="1.2" />
<line x1="320.00" y1="125.60" x2="325.50" y2="125.60" stroke="#222" stroke-width="1.2" />
<line x1="514.20" y1="125.60" x2="508.70" y2="125.60" stroke="#222" stroke-width="1.2" />
<line x1="320.00" y1="84.90" x2="325.50" y2="84.90" stroke="#222" stroke-width="1.2" />
<line x1="514.20" y1="84.90" x2="508.70" y2="84.90" stroke="#222" stroke-width="1.2" />
<line x1="320.00" y1="206.70" x2="353.99" y2="206.70" stroke="#2828f0" stroke-width="1.0" />
<text x="315.8" y="211.4" font-size="11.5" font-weight="bold" font-family='"Liberation Sans", sans-serif' fill="#111" text-anchor="end"  transform="matrix(1,0,0,1.06,0,-12.684)">0.0</text>
<text x="315.8" y="170.70000000000002" font-size="11.5" font-weight="bold" font-family='"Liberation Sans", sans-serif' fill="#111" text-anchor="end"  transform="matrix(1,0,0,1.06,0,-10.242)">0.1</text>
<text x="315.8" y="130.0" font-size="11.5" font-weight="bold" font-family='"Liberation Sans", sans-serif' fill="#111" text-anchor="end"  transform="matrix(1,0,0,1.06,0,-7.800)">0.2</text>
<text x="315.8" y="89.29999999999998" font-size="11.5" font-weight="bold" font-family='"Liberation Sans", sans-serif' fill="#111" text-anchor="end"  transform="matrix(1,0,0,1.06,0,-5.358)">0.3</text>
<text x="315.8" y="48.59999999999999" font-size="11.5" font-weight="bold" font-family='"Liberation Sans", sans-serif' fill="#111" text-anchor="end"  transform="matrix(1,0,0,1.06,0,-2.916)">0.4</text>
<text x="320.0" y="222.4" font-size="11.5" font-weight="bold" font-family='"Liberation Sans", sans-serif' fill="#111" text-anchor="middle"  transform="matrix(1,0,0,1.06,0,-13.344)">0.0</text>
<text x="352.3666666666667" y="222.4" font-size="11.5" font-weight="bold" font-family='"Liberation Sans", sans-serif' fill="#111" text-anchor="middle"  transform="matrix(1,0,0,1.06,0,-13.344)">0.2</text>
<text x="384.73333333333335" y="222.4" font-size="11.5" font-weight="bold" font-family='"Liberation Sans", sans-serif' fill="#111" text-anchor="middle"  transform="matrix(1,0,0,1.06,0,-13.344)">0.4</text>
<text x="417.1" y="222.4" font-size="11.5" font-weight="bold" font-family='"Liberation Sans", sans-serif' fill="#111" text-anchor="middle"  transform="matrix(1,0,0,1.06,0,-13.344)">0.6</text>
<text x="449.4666666666667" y="222.4" font-size="11.5" font-weight="bold" font-family='"Liberation Sans", sans-serif' fill="#111" text-anchor="middle"  transform="matrix(1,0,0,1.06,0,-13.344)">0.8</text>
<text x="481.83333333333337" y="222.4" font-size="11.5" font-weight="bold" font-family='"Liberation Sans", sans-serif' fill="#111" text-anchor="middle"  transform="matrix(1,0,0,1.06,0,-13.344)">1.0</text>
<text x="514.2" y="222.4" font-size="11.5" font-weight="bold" font-family='"Liberation Sans", sans-serif' fill="#111" text-anchor="middle"  transform="matrix(1,0,0,1.06,0,-13.344)">1.2</text>
<text x="382.6" y="242.7" font-size="11.5" font-weight="bold" font-family='"Liberation Sans", sans-serif' fill="#111" transform="matrix(1,0,0,1.06,0,-14.562)"><tspan font-style="italic">b</tspan><tspan font-size="8" dy="3.4">θ_EIC</tspan><tspan dy="-3.4" dx="2.6">(10</tspan><tspan font-size="8.2" dy="-6.6">-3</tspan><tspan dy="6.6" dx="2.6">T)</tspan></text>
<text transform="translate(290.6,159.8) rotate(-90)" x="0" y="0" font-size="10.2" font-weight="bold" font-family='"Liberation Sans", sans-serif' fill="#111" textLength="66.2" lengthAdjust="spacingAndGlyphs">-<tspan font-style="italic">dS</tspan><tspan font-size="7.8" dy="3.2">n_DT</tspan><tspan dy="-3.2">/</tspan><tspan font-style="italic">S</tspan><tspan font-size="7.8" dy="3.2">n_DT</tspan></text>
<rect x="342.6" y="58.2" width="56.2" height="23" fill="none" stroke="#222" stroke-width="1.3"/>
<path d="M353.8,69.5 C351.6,69.0 350.2,69.9 349.2,71 C348.2,72.1 347.7,72.6 346.7,72.6 C345.6,72.6 345.0,71.9 345.0,71 C345.0,70.1 345.6,69.4 346.7,69.4 C347.7,69.4 348.2,69.9 349.2,71 C350.2,72.1 351.6,73.0 353.8,72.6" fill="none" stroke="#111" stroke-width="1.6"/>
<text x="355.6" y="75.4" font-size="12.5" font-weight="bold" font-family='"Liberation Sans", sans-serif' fill="#111" transform="matrix(1,0,0,1.06,0,-4.524)">(</text>
<text x="359.4" y="75" font-size="12" font-weight="bold" font-style="italic" font-family='"Liberation Sans", sans-serif' fill="#111" transform="matrix(1,0,0,1.06,0,-4.500)">b</text>
<text x="366.8" y="77.6" font-size="8" font-weight="bold" font-family='"Liberation Sans", sans-serif' fill="#111" textLength="21.6" lengthAdjust="spacingAndGlyphs" transform="matrix(1,0,0,1.06,0,-4.656)">θ_EIC</text>
<text x="388.4" y="75.4" font-size="12.5" font-weight="bold" font-family='"Liberation Sans", sans-serif' fill="#111" transform="matrix(1,0,0,1.06,0,-4.524)">)</text>
<text x="392.7" y="67.2" font-size="8" font-weight="bold" font-family='"Liberation Sans", sans-serif' fill="#111" transform="matrix(1,0,0,1.06,0,-4.032)">3</text>
<rect x="489.8" y="163.5" width="18" height="19.5" fill="#ffff3c"/>
<text x="494" y="178.8" font-size="14.4" font-family='"Liberation Sans", sans-serif' fill="#000" transform="matrix(1,0,0,1.06,0,-10.728)">b</text>
</svg>
</body></html>
